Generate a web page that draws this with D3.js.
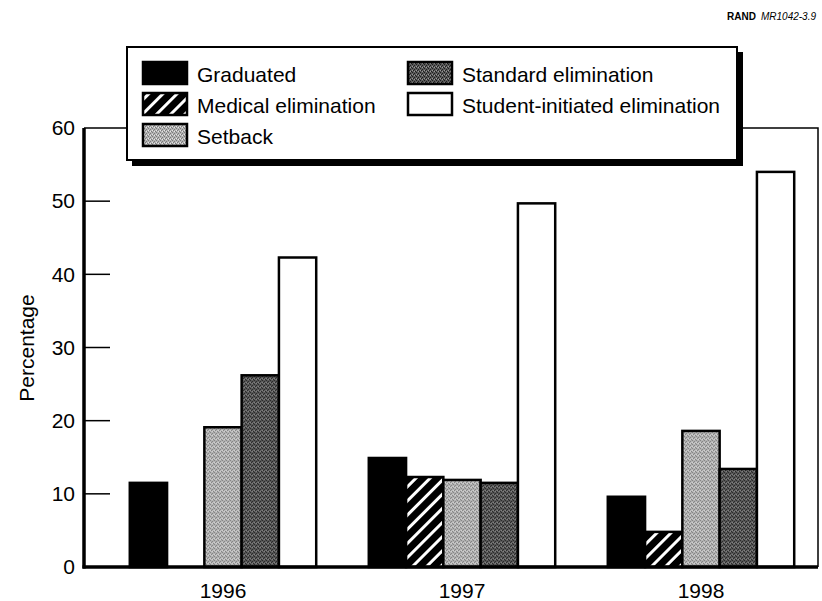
<!DOCTYPE html>
<html>
<head>
<meta charset="utf-8">
<script src="https://cdn.jsdelivr.net/npm/d3@7"></script>
<style>
  html, body { margin: 0; padding: 0; background: #fff; }
  svg { display: block; font-family: "Liberation Sans", Arial, Helvetica, sans-serif; }
</style>
</head>
<body>
<svg id="chart" width="822" height="601"></svg>
<script>
const years = ["1996", "1997", "1998"];
const seriesNames = ["Graduated", "Medical elimination", "Setback", "Standard elimination", "Student-initiated elimination"];
const graduated = [11.5, 14.9, 9.6];
const medical = [0, 12.3, 4.8];
const setback = [19.1, 11.9, 18.6];
const standard = [26.2, 11.5, 13.4];
const studentInitiated = [42.3, 49.7, 54.0];
const yTicks = [0, 10, 20, 30, 40, 50, 60];
const seriesValues = [graduated, medical, setback, standard, studentInitiated];

const svg = d3.select("#chart");
const defs = svg.append("defs");

// hatch pattern (white diagonal stripes on black)
const hatch = defs.append("pattern").attr("id", "hatch").attr("patternUnits", "userSpaceOnUse")
  .attr("width", 10).attr("height", 10).attr("patternTransform", "rotate(45)");
hatch.append("rect").attr("width", 10).attr("height", 10).attr("fill", "#000");
hatch.append("rect").attr("x", 0).attr("y", 0).attr("width", 3).attr("height", 10).attr("fill", "#fff");

// stipple patterns
function stipple(id, base, dot, light) {
  const p = defs.append("pattern").attr("id", id).attr("patternUnits", "userSpaceOnUse")
    .attr("width", 4).attr("height", 4);
  p.append("rect").attr("width", 4).attr("height", 4).attr("fill", base);
  [[0,0],[2,1],[1,2],[3,3]].forEach(([x,y]) => p.append("rect").attr("x", x).attr("y", y).attr("width", 1).attr("height", 1).attr("fill", dot));
  [[2,3],[0,2]].forEach(([x,y]) => p.append("rect").attr("x", x).attr("y", y).attr("width", 1).attr("height", 1).attr("fill", light));
}
stipple("setback", "#b4b4b4", "#7a7a7a", "#e6e6e6");
stipple("standard", "#5a5a5a", "#1e1e1e", "#9a9a9a");

const fills = ["#000", "url(#hatch)", "url(#setback)", "url(#standard)", "#fff"];

const x0 = d3.scaleBand().domain(years).range([103.5, 820.5]).paddingInner(0.22).paddingOuter(0.11);
const x1 = d3.scaleBand().domain(seriesNames).range([0, x0.bandwidth()]).padding(0);
const y = d3.scaleLinear().domain([0, 60]).range([567, 128]);

const left = 84, right = 818;
const fontSize = 21;

// frame top/right
svg.append("path").attr("d", `M${left},${y(60)}H${right}V${y(0)}`).attr("fill", "none")
  .attr("stroke", "#000").attr("stroke-width", 1.5);

// bars
const groups = svg.append("g").selectAll("g").data(years).join("g")
  .attr("transform", d => `translate(${x0(d)},0)`);
groups.selectAll("rect").data((yr, i) => seriesNames.map((s, k) => ({s, k, v: seriesValues[k][i]})).filter(d => d.v > 0))
  .join("rect")
  .attr("x", d => x1(d.s))
  .attr("width", x1.bandwidth())
  .attr("y", d => y(d.v))
  .attr("height", d => y(0) - y(d.v))
  .attr("fill", d => fills[d.k])
  .attr("stroke", "#000")
  .attr("stroke-width", 2.5);

// y axis with inward ticks
const yAxis = d3.axisLeft(y).tickValues(yTicks).tickSize(0).tickPadding(9);
const ya = svg.append("g").attr("transform", `translate(${left},0)`).call(yAxis);
ya.select(".domain").remove();
ya.selectAll("text").attr("font-size", fontSize).attr("fill", "#000").attr("font-family", "Liberation Sans, Arial, sans-serif");
svg.append("g").selectAll("line").data(yTicks.filter(t => t > 0 && t < 60)).join("line")
  .attr("x1", left).attr("x2", left + 26).attr("y1", d => y(d)).attr("y2", d => y(d))
  .attr("stroke", "#000").attr("stroke-width", 1.5);
svg.append("line").attr("x1", left).attr("x2", left).attr("y1", y(60)).attr("y2", y(0) + 1.5)
  .attr("stroke", "#000").attr("stroke-width", 3.5);

// x axis
const xAxis = d3.axisBottom(x0).tickSize(0).tickPadding(16);
const xa = svg.append("g").attr("transform", `translate(0,${y(0)})`).call(xAxis);
xa.select(".domain").remove();
xa.selectAll("text").attr("font-size", fontSize).attr("fill", "#000").attr("font-family", "Liberation Sans, Arial, sans-serif");
svg.append("line").attr("x1", left - 1.5).attr("x2", right).attr("y1", y(0)).attr("y2", y(0))
  .attr("stroke", "#000").attr("stroke-width", 3.5);

// y label
svg.append("text").attr("transform", `translate(34,348) rotate(-90)`).attr("text-anchor", "middle")
  .attr("font-size", 21).text("Percentage");

// legend
const lg = svg.append("g");
lg.append("rect").attr("x", 132).attr("y", 52).attr("width", 611).attr("height", 114).attr("fill", "#000");
lg.append("rect").attr("x", 127).attr("y", 47).attr("width", 610).attr("height", 113).attr("fill", "#fff")
  .attr("stroke", "#000").attr("stroke-width", 2);
const legendPos = [[143, 62], [143, 93], [143, 124], [408, 62], [408, 93]];
seriesNames.forEach((s, k) => {
  const [lx, ly] = legendPos[k];
  lg.append("rect").attr("x", lx).attr("y", ly).attr("width", 44).attr("height", 22)
    .attr("fill", fills[k]).attr("stroke", "#000").attr("stroke-width", 2.5);
  lg.append("text").attr("x", lx + 54).attr("y", ly + 20).attr("font-size", fontSize).text(s);
});

// credit
const mr = svg.append("text").attr("x", 816).attr("y", 20).attr("font-size", 10).attr("font-style", "italic")
  .attr("text-anchor", "end").text("MR1042-3.9");
const mrW = mr.node().getComputedTextLength();
svg.append("text").attr("x", 816 - mrW - 5).attr("y", 20).attr("font-size", 10).attr("font-weight", "bold")
  .attr("text-anchor", "end").text("RAND");
</script>
</body>
</html>
